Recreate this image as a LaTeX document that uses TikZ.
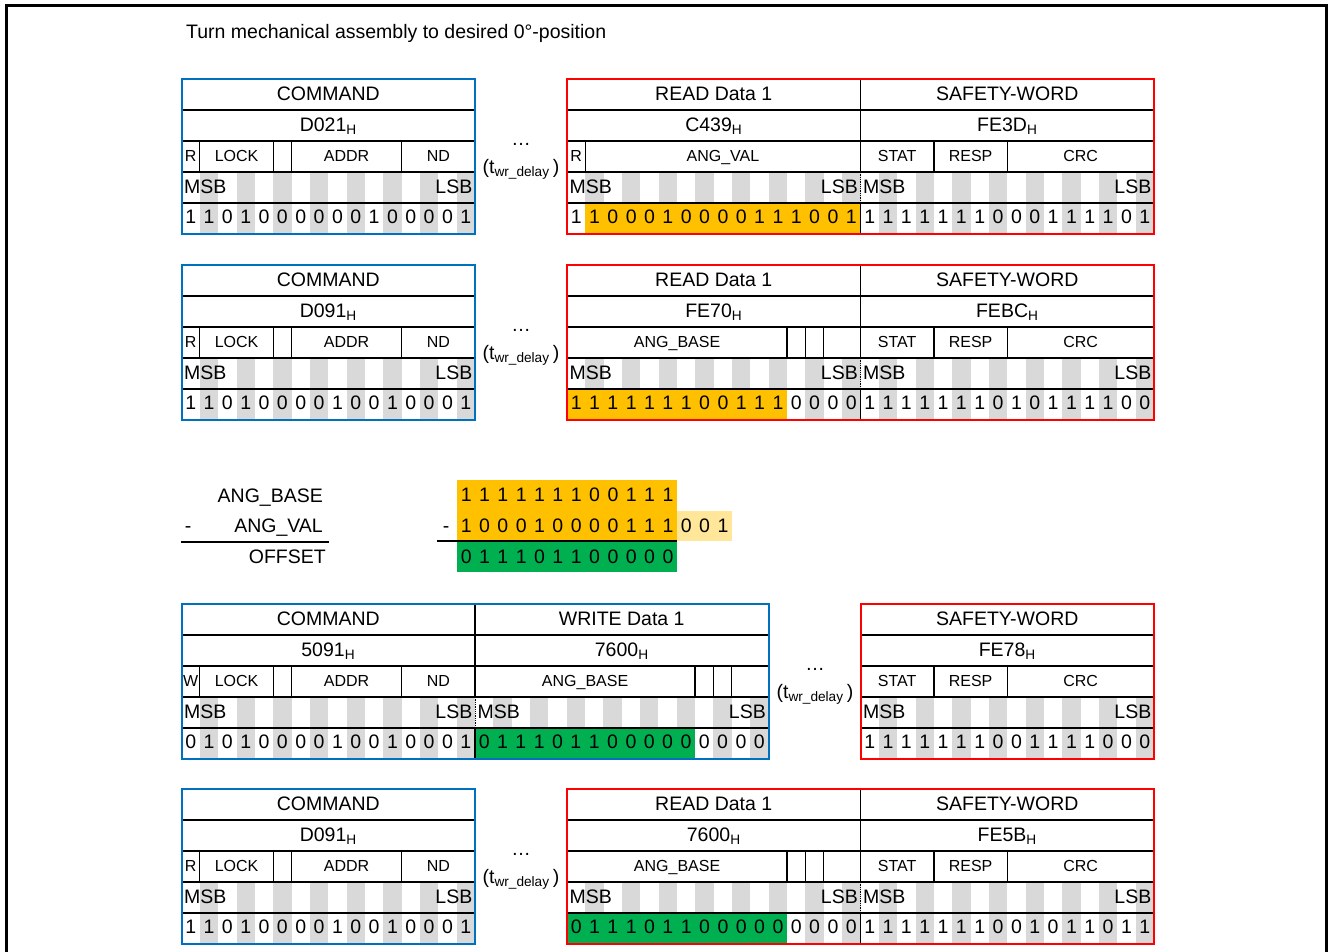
\documentclass[tikz,border=0pt]{standalone}
\usepackage{fontspec}
\setmainfont{Liberation Sans}
\usepackage{xcolor}
\usepackage{tikz}
\usetikzlibrary{positioning}

\definecolor{cmdblue}{HTML}{0070C0}
\definecolor{rspred}{HTML}{FF0000}
\definecolor{angorange}{HTML}{FFC000}
\definecolor{anglight}{HTML}{FFE699}
\definecolor{offgreen}{HTML}{00B050}
\definecolor{stripegray}{HTML}{D9D9D9}

% width of one bit cell
\newcommand{\bw}{18.34375}
% grey stripes on odd bits (MSB/LSB row and value row)
\newcommand{\stripes}[2]{%
  \foreach \k in {1,3,...,15}
    \fill[stripe] ({#1+\k*\bw},{#2+93}) rectangle ({#1+(\k+1)*\bw},{#2+155});}
% coloured run of bits: x0, y, first, last+1, colour
\newcommand{\hilite}[5]{%
  \fill[#5] ({#1+#3*\bw},{#2+124}) rectangle ({#1+#4*\bw},{#2+155});}
% row lines of a frame with #3 words
\newcommand{\wordgrid}[3]{%
  \foreach \r in {31,62,93,124}
    \draw[rule] ({#1},{#2+\r}) -- ({#1+#3*293.5},{#2+\r});}
% line between two words
\newcommand{\worddivider}[2]{%
  \draw[rule] ({#1},{#2}) -- ({#1},{#2+93});
  \draw[rule, densely dotted, line width=1pt] ({#1},{#2+93}) -- ({#1},{#2+124});
  \draw[rule] ({#1},{#2+124}) -- ({#1},{#2+155});}
\newcommand{\fieldsep}[3]{%
  \foreach \k in {#3}
    \draw[rule] ({#1+\k*\bw},{#2+62}) -- ({#1+\k*\bw},{#2+93});}
% title and hex value
\newcommand{\wordhead}[5]{%
  \node[head] (#5-title) at ({#1+146.75},{#2+14}) {#3};
  \node[head] (#5-hex) at ({#1+146.75},{#2+45.5}) {#4\textsubscript{H}};}
% MSB / LSB and the bit values
\newcommand{\bitvals}[4]{%
  \node[tag, anchor=west] (#4-msb) at ({#1+2.5},{#2+107}) {MSB};
  \node[tag, anchor=east] (#4-lsb) at ({#1+16*\bw-2.5},{#2+107}) {LSB};
  \foreach \bv [count=\bi from 0] in {#3}
    \node[bitval] (#4-\bi) at ({#1+(\bi+0.5)*\bw},{#2+137.5}) {\bv};}
% field layouts
\newcommand{\cmdfields}[4]{%
  \fieldsep{#1}{#2}{1,5,6,12}
  \node[field] (#4-rw) at ({#1+0.5*\bw},{#2+76.5}) {#3};
  \node[field] (#4-lock) at ({#1+3*\bw},{#2+76.5}) {LOCK};
  \node[field] (#4-addr) at ({#1+9*\bw},{#2+76.5}) {ADDR};
  \node[field] (#4-nd) at ({#1+14*\bw},{#2+76.5}) {ND};}
\newcommand{\valfields}[3]{%
  \fieldsep{#1}{#2}{1}
  \node[field] (#3-rw) at ({#1+0.5*\bw},{#2+76.5}) {R};
  \node[field] (#3-val) at ({#1+8.5*\bw},{#2+76.5}) {ANG\_VAL};}
\newcommand{\basefields}[3]{%
  \fieldsep{#1}{#2}{12,13,14}
  \node[field] (#3-base) at ({#1+6*\bw},{#2+76.5}) {ANG\_BASE};}
\newcommand{\safefields}[3]{%
  \fieldsep{#1}{#2}{4,8}
  \node[field] (#3-stat) at ({#1+2*\bw},{#2+76.5}) {STAT};
  \node[field] (#3-resp) at ({#1+6*\bw},{#2+76.5}) {RESP};
  \node[field] (#3-crc) at ({#1+12*\bw},{#2+76.5}) {CRC};}

\begin{document}
\begin{tikzpicture}[x=1pt, y=-1pt,
    stripe/.style={fill=stripegray},
    rule/.style={line width=1.3pt, black},
    cmdframe/.style={line width=2pt, draw=cmdblue},
    rspframe/.style={line width=2pt, draw=rspred},
    big/.style={font=\fontsize{19.5}{23}\selectfont, inner sep=0pt, text height=14pt, text depth=0pt},
    head/.style={big},
    tag/.style={big},
    bitval/.style={big},
    delay/.style={big},
    field/.style={font=\fontsize{16}{19}\selectfont, inner sep=0pt, text height=11.5pt, text depth=0pt}
  ]
  \useasboundingbox (0,0) rectangle (1329,951);
  \draw[line width=3pt] (6,960) -- (6,5) -- (1326,5) -- (1326,960);

  \node[big, anchor=west] (title) at (186,31) {Turn mechanical assembly to desired 0°-position};

  % --- read ANG_VAL
  \stripes{181.5}{79} \stripes{567}{79} \stripes{860.5}{79}
  \hilite{567}{79}{1}{16}{angorange}
  \wordgrid{181.5}{79}{1} \wordgrid{567}{79}{2}
  \worddivider{860.5}{79}
  \cmdfields{181.5}{79}{R}{c1}
  \valfields{567}{79}{r1}
  \safefields{860.5}{79}{s1}
  \draw[cmdframe] (181.5,79) rectangle (475,234);
  \draw[rspframe] (567,79) rectangle (1154,234);
  \wordhead{181.5}{79}{COMMAND}{D021}{c1}
  \wordhead{567}{79}{READ Data 1}{C439}{r1}
  \wordhead{860.5}{79}{SAFETY-WORD}{FE3D}{s1}
  \bitvals{181.5}{79}{1,1,0,1,0,0,0,0,0,0,1,0,0,0,0,1}{c1}
  \bitvals{567}{79}{1,1,0,0,0,1,0,0,0,0,1,1,1,0,0,1}{r1}
  \bitvals{860.5}{79}{1,1,1,1,1,1,1,0,0,0,1,1,1,1,0,1}{s1}
  \node[delay] (d1) at (521,166) {(t\textsubscript{wr\_delay}\,)};
  \node[big, above=13pt of d1] (e1) {\ldots};

  % --- read ANG_BASE
  \stripes{181.5}{265} \stripes{567}{265} \stripes{860.5}{265}
  \hilite{567}{265}{0}{12}{angorange}
  \wordgrid{181.5}{265}{1} \wordgrid{567}{265}{2}
  \worddivider{860.5}{265}
  \cmdfields{181.5}{265}{R}{c2}
  \basefields{567}{265}{r2}
  \safefields{860.5}{265}{s2}
  \draw[cmdframe] (181.5,265) rectangle (475,420);
  \draw[rspframe] (567,265) rectangle (1154,420);
  \wordhead{181.5}{265}{COMMAND}{D091}{c2}
  \wordhead{567}{265}{READ Data 1}{FE70}{r2}
  \wordhead{860.5}{265}{SAFETY-WORD}{FEBC}{s2}
  \bitvals{181.5}{265}{1,1,0,1,0,0,0,0,1,0,0,1,0,0,0,1}{c2}
  \bitvals{567}{265}{1,1,1,1,1,1,1,0,0,1,1,1,0,0,0,0}{r2}
  \bitvals{860.5}{265}{1,1,1,1,1,1,1,0,1,0,1,1,1,1,0,0}{s2}
  \node[delay] (d2) at (521,352) {(t\textsubscript{wr\_delay}\,)};
  \node[big, above=13pt of d2] (e2) {\ldots};

  % --- offset calculation
  \node[big, anchor=east] (lbase) at (323,495) {ANG\_BASE};
  \node[big] (lminus) at (188,525.5) {-};
  \node[big, anchor=east] (lval) at (323,525.5) {ANG\_VAL};
  \node[big, anchor=east] (loff) at (326,556.5) {OFFSET};
  \draw[line width=2pt] (181,541.5) -- (329,541.5);
  \fill[angorange] (457,480) rectangle ({457+12*\bw},541);
  \fill[anglight] ({457+12*\bw},510.5) rectangle ({457+15*\bw},541);
  \fill[offgreen] (457,541) rectangle ({457+12*\bw},572);
  \draw[line width=2pt] (437,541) -- ({457+12*\bw},541);
  \node[big] (nminus) at (446,525.5) {-};
  \foreach \bv [count=\bi from 0] in {1,1,1,1,1,1,1,0,0,1,1,1}
    \node[bitval] (nbase-\bi) at ({457+(\bi+0.5)*\bw},494.5) {\bv};
  \foreach \bv [count=\bi from 0] in {1,0,0,0,1,0,0,0,0,1,1,1,0,0,1}
    \node[bitval] (nval-\bi) at ({457+(\bi+0.5)*\bw},525) {\bv};
  \foreach \bv [count=\bi from 0] in {0,1,1,1,0,1,1,0,0,0,0,0}
    \node[bitval] (noff-\bi) at ({457+(\bi+0.5)*\bw},556) {\bv};

  % --- write ANG_BASE
  \stripes{181.5}{604} \stripes{475}{604} \stripes{860.5}{604}
  \hilite{475}{604}{0}{12}{offgreen}
  \wordgrid{181.5}{604}{2} \wordgrid{860.5}{604}{1}
  \worddivider{475}{604}
  \cmdfields{181.5}{604}{W}{c3}
  \basefields{475}{604}{w3}
  \safefields{860.5}{604}{s3}
  \draw[cmdframe] (181.5,604) rectangle (768.5,759);
  \draw[rspframe] (860.5,604) rectangle (1154,759);
  \wordhead{181.5}{604}{COMMAND}{5091}{c3}
  \wordhead{475}{604}{WRITE Data 1}{7600}{w3}
  \wordhead{860.5}{604}{SAFETY-WORD}{FE78}{s3}
  \bitvals{181.5}{604}{0,1,0,1,0,0,0,0,1,0,0,1,0,0,0,1}{c3}
  \bitvals{475}{604}{0,1,1,1,0,1,1,0,0,0,0,0,0,0,0,0}{w3}
  \bitvals{860.5}{604}{1,1,1,1,1,1,1,0,0,1,1,1,1,0,0,0}{s3}
  \node[delay] (d3) at (815,691) {(t\textsubscript{wr\_delay}\,)};
  \node[big, above=13pt of d3] (e3) {\ldots};

  % --- read back ANG_BASE
  \stripes{181.5}{789} \stripes{567}{789} \stripes{860.5}{789}
  \hilite{567}{789}{0}{12}{offgreen}
  \wordgrid{181.5}{789}{1} \wordgrid{567}{789}{2}
  \worddivider{860.5}{789}
  \cmdfields{181.5}{789}{R}{c4}
  \basefields{567}{789}{r4}
  \safefields{860.5}{789}{s4}
  \draw[cmdframe] (181.5,789) rectangle (475,944);
  \draw[rspframe] (567,789) rectangle (1154,944);
  \wordhead{181.5}{789}{COMMAND}{D091}{c4}
  \wordhead{567}{789}{READ Data 1}{7600}{r4}
  \wordhead{860.5}{789}{SAFETY-WORD}{FE5B}{s4}
  \bitvals{181.5}{789}{1,1,0,1,0,0,0,0,1,0,0,1,0,0,0,1}{c4}
  \bitvals{567}{789}{0,1,1,1,0,1,1,0,0,0,0,0,0,0,0,0}{r4}
  \bitvals{860.5}{789}{1,1,1,1,1,1,1,0,0,1,0,1,1,0,1,1}{s4}
  \node[delay] (d4) at (521,876) {(t\textsubscript{wr\_delay}\,)};
  \node[big, above=13pt of d4] (e4) {\ldots};
\end{tikzpicture}
\end{document}
